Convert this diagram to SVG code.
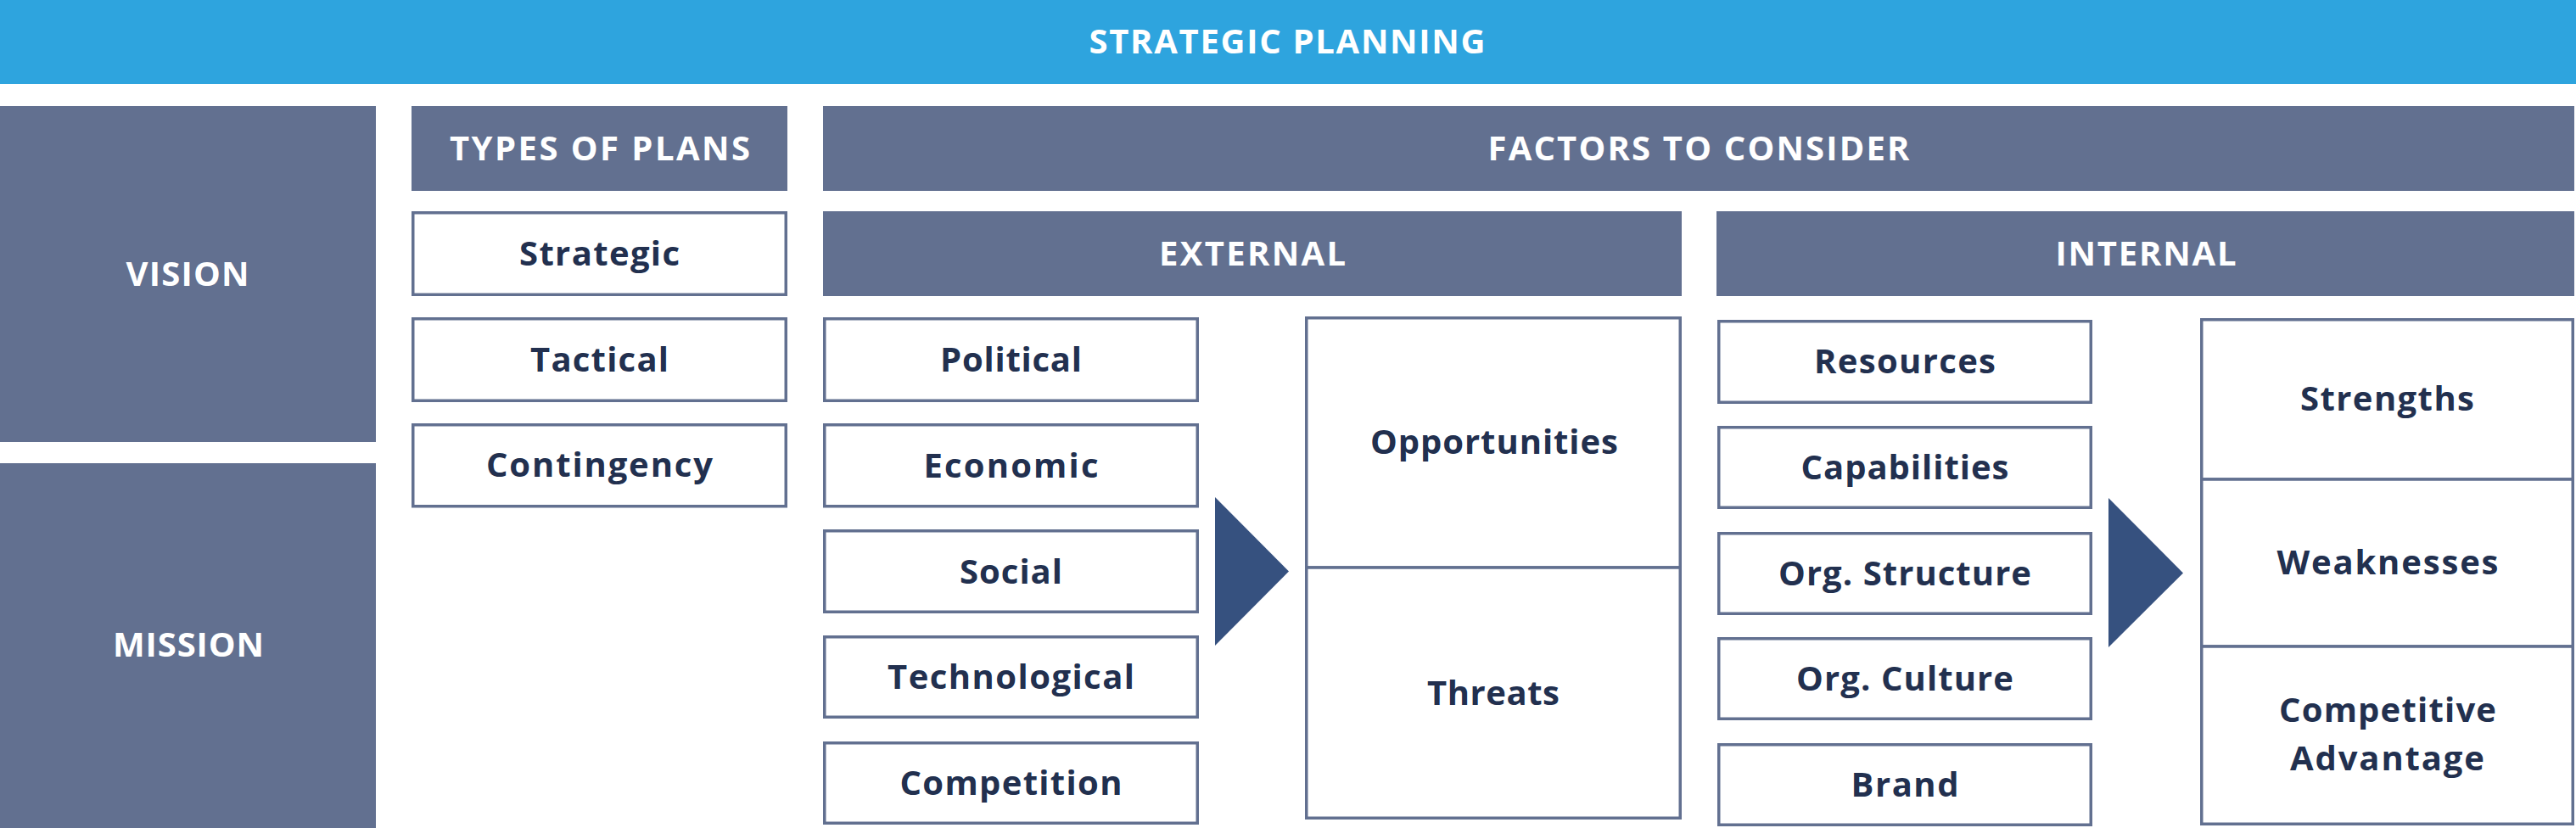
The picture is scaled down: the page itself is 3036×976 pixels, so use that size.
<svg xmlns="http://www.w3.org/2000/svg" width="3036" height="976" viewBox="0 0 3036 976">
<style>
.hdr{fill:#627090}
.box{fill:#ffffff;stroke:#627090;stroke-width:3.5}
.wt{font-family:"Open Sans","Liberation Sans",sans-serif;font-weight:700;font-size:40px;fill:#ffffff;text-anchor:middle}
.dk{font-family:"Open Sans","Liberation Sans",sans-serif;font-weight:700;font-size:40px;fill:#22304f;text-anchor:middle}
.arr{fill:#36517f}
</style>
<rect width="3036" height="976" fill="#ffffff"/>
<g id="title"><rect x="0" y="0" width="3036" height="99" fill="#2ea4de"/><text class="wt" x="1517" y="63" textLength="467" lengthAdjust="spacing">STRATEGIC PLANNING</text></g>
<g id="vision"><rect class="hdr" x="0" y="125" width="443" height="396"/><text class="wt" x="221" y="337" textLength="145" lengthAdjust="spacing">VISION</text></g>
<g id="mission"><rect class="hdr" x="0" y="546" width="443" height="430"/><text class="wt" x="222" y="774" textLength="178" lengthAdjust="spacing">MISSION</text></g>
<g id="types"><rect class="hdr" x="485" y="125" width="443" height="100"/><text class="wt" x="707" y="189" textLength="354" lengthAdjust="spacing">TYPES OF PLANS</text></g>
<g id="factors"><rect class="hdr" x="970" y="125" width="2064" height="100"/><text class="wt" x="2002" y="189" textLength="497" lengthAdjust="spacing">FACTORS TO CONSIDER</text></g>
<g id="external"><rect class="hdr" x="970" y="249" width="1012" height="100"/><text class="wt" x="1476" y="313" textLength="220" lengthAdjust="spacing">EXTERNAL</text></g>
<g id="internal"><rect class="hdr" x="2023" y="249" width="1011" height="100"/><text class="wt" x="2529" y="313" textLength="213" lengthAdjust="spacing">INTERNAL</text></g>
<g id="strategic"><rect class="box" x="486.75" y="250.75" width="439.5" height="96.5"/><text class="dk" x="706.5" y="313" textLength="189" lengthAdjust="spacing">Strategic</text></g>
<g id="tactical"><rect class="box" x="486.75" y="375.75" width="439.5" height="96.5"/><text class="dk" x="706.5" y="438" textLength="163" lengthAdjust="spacing">Tactical</text></g>
<g id="contingency"><rect class="box" x="486.75" y="500.75" width="439.5" height="96"/><text class="dk" x="706.5" y="562" textLength="267" lengthAdjust="spacing">Contingency</text></g>
<g id="political"><rect class="box" x="971.75" y="375.75" width="439.5" height="96.5"/><text class="dk" x="1191.5" y="438" textLength="167" lengthAdjust="spacing">Political</text></g>
<g id="economic"><rect class="box" x="971.75" y="500.75" width="439.5" height="96"/><text class="dk" x="1191.5" y="563" textLength="206" lengthAdjust="spacing">Economic</text></g>
<g id="social"><rect class="box" x="971.75" y="625.75" width="439.5" height="95.5"/><text class="dk" x="1191.5" y="688" textLength="121" lengthAdjust="spacing">Social</text></g>
<g id="technological"><rect class="box" x="971.75" y="750.75" width="439.5" height="94.5"/><text class="dk" x="1191.5" y="812" textLength="291" lengthAdjust="spacing">Technological</text></g>
<g id="competition"><rect class="box" x="971.75" y="875.75" width="439.5" height="94.5"/><text class="dk" x="1191.5" y="937" textLength="262" lengthAdjust="spacing">Competition</text></g>
<g id="opportunities"><rect class="box" x="1539.75" y="374.75" width="440.5" height="294.25"/><text class="dk" x="1761" y="535" textLength="292" lengthAdjust="spacing">Opportunities</text></g>
<g id="threats"><rect class="box" x="1539.75" y="669" width="440.5" height="295.25"/><text class="dk" x="1760" y="831" textLength="156" lengthAdjust="spacing">Threats</text></g>
<g id="resources"><rect class="box" x="2025.75" y="378.75" width="438.5" height="95.5"/><text class="dk" x="2245" y="440" textLength="214" lengthAdjust="spacing">Resources</text></g>
<g id="capabilities"><rect class="box" x="2025.75" y="503.75" width="438.5" height="94.5"/><text class="dk" x="2245" y="565" textLength="245" lengthAdjust="spacing">Capabilities</text></g>
<g id="orgstructure"><rect class="box" x="2025.75" y="628.75" width="438.5" height="94.5"/><text class="dk" x="2245" y="690" textLength="298" lengthAdjust="spacing">Org. Structure</text></g>
<g id="orgculture"><rect class="box" x="2025.75" y="752.75" width="438.5" height="94.5"/><text class="dk" x="2245" y="814" textLength="256" lengthAdjust="spacing">Org. Culture</text></g>
<g id="brand"><rect class="box" x="2025.75" y="877.75" width="438.5" height="94.5"/><text class="dk" x="2245" y="939" textLength="127" lengthAdjust="spacing">Brand</text></g>
<g id="strengths"><rect class="box" x="2594.75" y="376.75" width="437.5" height="188.25"/><text class="dk" x="2813.5" y="484" textLength="205" lengthAdjust="spacing">Strengths</text></g>
<g id="weaknesses"><rect class="box" x="2594.75" y="565" width="437.5" height="197"/><text class="dk" x="2814" y="677" textLength="261" lengthAdjust="spacing">Weaknesses</text></g>
<g id="competitive"><rect class="box" x="2594.75" y="762" width="437.5" height="209.25"/><text class="dk" x="2814" y="851" textLength="256" lengthAdjust="spacing">Competitive</text><text class="dk" x="2813.5" y="908" textLength="229" lengthAdjust="spacing">Advantage</text></g>
<g id="connectors">
<polygon class="arr" points="1432,586 1519,673.5 1432,761"/>
<polygon class="arr" points="2485,587 2573,675.5 2485,763"/>
</g>
</svg>
